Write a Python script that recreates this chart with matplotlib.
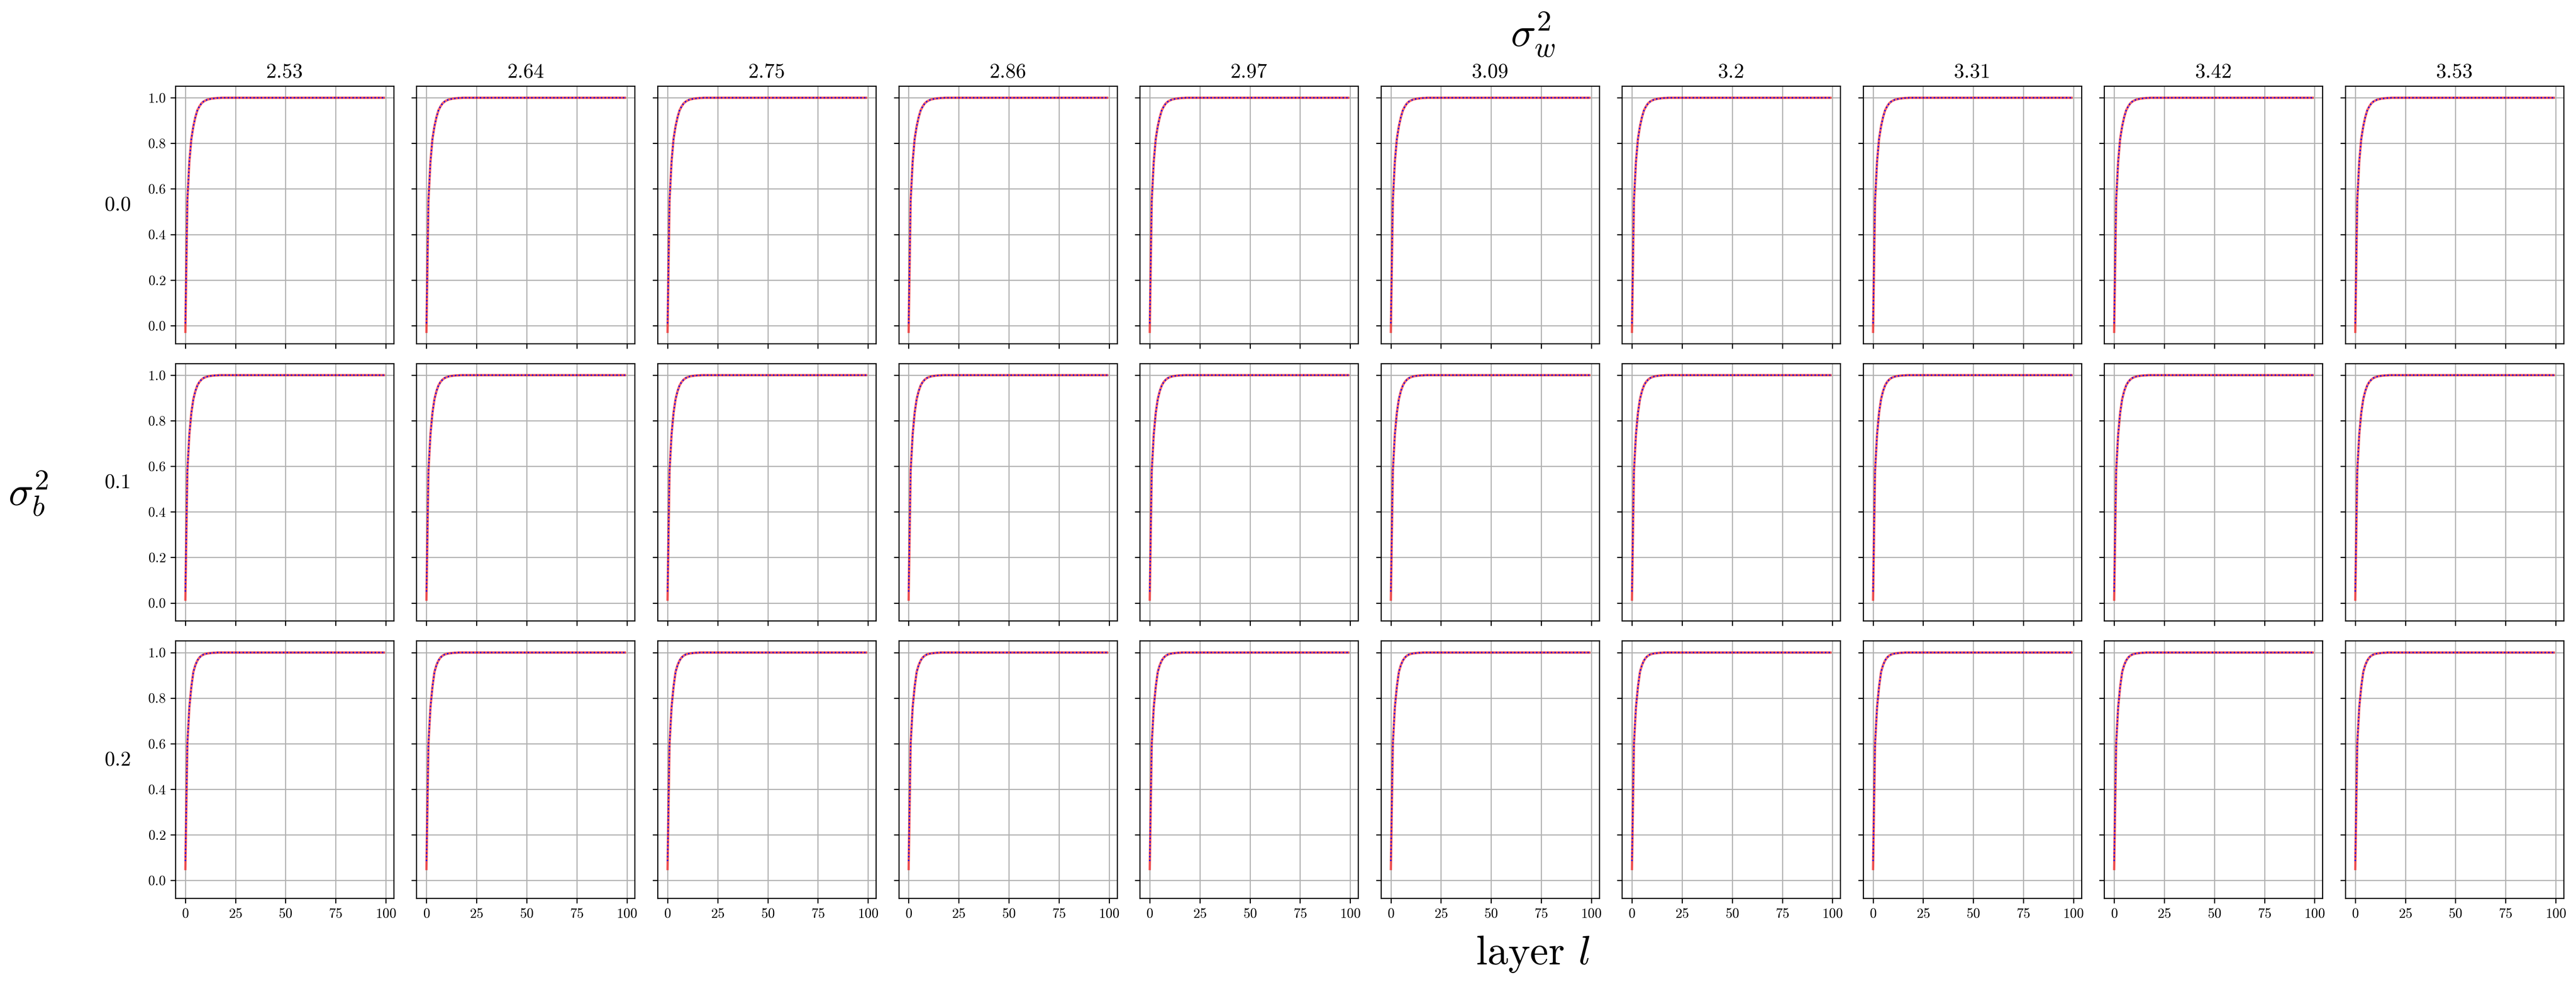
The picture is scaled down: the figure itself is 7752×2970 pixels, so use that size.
#!/usr/bin/env python3


import matplotlib
matplotlib.use('Agg')
import matplotlib.pyplot as plt
import numpy as np


# Fonts. Computer Modern look, as in a LaTeX-rendered figure.
plt.rcParams['font.family'] = 'serif'
plt.rcParams['font.serif'] = ['cmr10', 'DejaVu Serif']
plt.rcParams['mathtext.fontset'] = 'cm'
plt.rcParams['axes.formatter.use_mathtext'] = True


# Grid values. Columns: weight variance, rows: bias variance.
sigma_w2 = [2.53, 2.64, 2.75, 2.86, 2.97, 3.09, 3.2, 3.31, 3.42, 3.53]
sigma_b2 = [0.0, 0.1, 0.2]
n_layers = 100

# Correlation at layer 0 (red curve sits a bit lower).
red_start = [-0.027, 0.015, 0.05]
blue_start = [0.01, 0.05, 0.085]

rise_b00 = [0.55, 0.72, 0.82, 0.875, 0.915, 0.945, 0.962, 0.975, 0.983,
            0.988, 0.992, 0.994, 0.996, 0.997, 0.998, 0.999, 0.999, 1.0, 1.0]
rise_b01 = [0.58, 0.74, 0.835, 0.895, 0.93, 0.955, 0.97, 0.98, 0.987,
            0.991, 0.994, 0.996, 0.997, 0.998, 0.999, 0.999, 1.0, 1.0, 1.0]
rise_b02 = [0.60, 0.76, 0.85, 0.915, 0.945, 0.965, 0.978, 0.986, 0.991,
            0.994, 0.996, 0.997, 0.998, 0.999, 0.999, 1.0, 1.0, 1.0, 1.0]
rises = [rise_b00, rise_b01, rise_b02]
plateau = 1.0


def curve(start, rise):
    """Full per-layer series: start value, the rise, then the plateau."""
    values = [start] + rise
    values += [plateau] * (n_layers - len(values))
    return np.array(values)


layers = np.arange(n_layers)


# Figure. 7752 x 2970 pixels at 300 DPI.
fig, axes = plt.subplots(len(sigma_b2), len(sigma_w2), sharex=True,
                         sharey=True, figsize=(25.84, 9.9), dpi=300)
fig.subplots_adjust(left=0.0681, right=0.9952, top=0.9128, bottom=0.0899,
                    wspace=0.1044, hspace=0.0774)


# Plot.
for i, b in enumerate(sigma_b2):
    red = curve(red_start[i], rises[i])
    blue = curve(blue_start[i], rises[i])
    for j, w in enumerate(sigma_w2):
        ax = axes[i, j]
        ax.plot(layers, red, color='red', alpha=0.6, lw=1.7)
        ax.plot(layers, blue, color='blue', ls=':', lw=1.0)
        ax.grid(True, color='#b0b0b0', lw=0.8)
        ax.set_axisbelow(True)
        ax.tick_params(labelsize=10)
        if i == 0:
            ax.set_title(str(w), fontsize=15)
        if j == 0:
            ax.set_ylabel(str(b), rotation=0, fontsize=15, labelpad=12,
                          ha='right', va='bottom')


# Outer labels.
fig.text(0.595, 0.965, r'$\sigma_w^2$', fontsize=30, ha='center',
         va='center')
fig.text(0.011, 0.5, r'$\sigma_b^2$', fontsize=30, ha='center', va='center')
fig.text(0.595, 0.033, r'layer $l$', fontsize=30, ha='center', va='center')


# Output.
fig.savefig('out.png', dpi=300)
